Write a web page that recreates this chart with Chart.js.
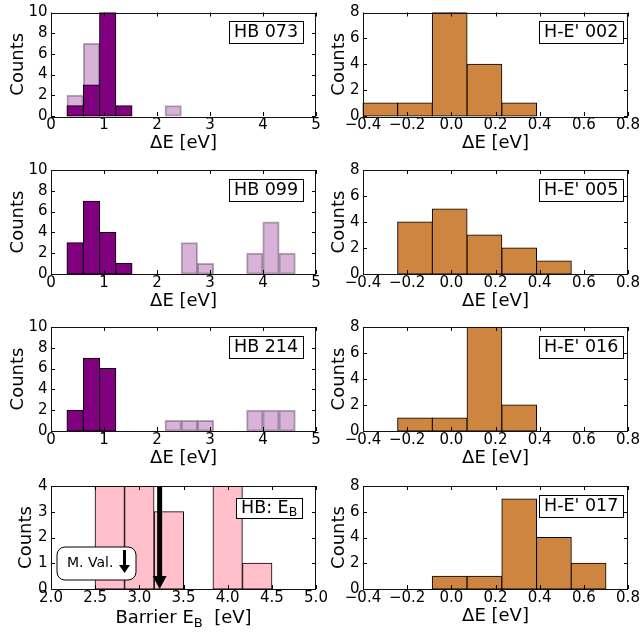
<!DOCTYPE html>
<html><head><meta charset="utf-8">
<script src="https://cdn.jsdelivr.net/npm/chart.js@4.4.1/dist/chart.umd.min.js"></script>
<style>
html,body{margin:0;padding:0;background:#fff;}
#wrap{position:relative;width:642px;height:633px;overflow:hidden;background:#fff;}
#wrap canvas{position:absolute;left:0;top:0;}
</style></head><body><div id="wrap"></div>
<script>
// ---------------- data ----------------
const hbBinEdges = [0.30,0.61,0.92,1.22,1.53,1.84,2.15,2.46,2.76,3.07,3.38,3.69,4.00,4.30,4.61];
const hb073Main  = [1,3,10,1,0,0,0,0,0,0,0,0,0,0];
const hb073Other = [2,7,0,0,0,0,1,0,0,0,0,0,0,0];
const hb099Main  = [3,7,4,1,0,0,0,0,0,0,0,0,0,0];
const hb099Other = [0,0,0,0,0,0,0,3,1,0,0,2,5,2];
const hb214Main  = [2,7,6,0,0,0,0,0,0,0,0,0,0,0];
const hb214Other = [0,0,0,0,0,0,1,1,1,0,0,2,2,2];

const heBinEdges = [-0.400,-0.243,-0.086,0.071,0.229,0.386,0.543,0.700];
const he002 = [1,1,8,4,1,0,0];
const he005 = [0,4,5,3,2,1,0];
const he016 = [0,1,1,8,2,0,0];
const he017 = [0,0,1,1,7,4,2];

const barrierBinEdges = [2.50,2.83,3.17,3.50,3.83,4.17,4.50];
const barrierCounts   = [5,5,3,0,5,1];
const barrierMean     = 3.23;

const hbXTicks = [0,1,2,3,4,5];
const hbYTicks = [0,2,4,6,8,10];
const heXTicks = [-0.4,-0.2,0.0,0.2,0.4,0.6,0.8];
const heYTicks = [0,2,4,6,8];
const barrierXTicks = [2.0,2.5,3.0,3.5,4.0,4.5,5.0];
const barrierYTicks = [0,1,2,3,4];

// ---------------- styling / layout ----------------
const F = '"DejaVu Sans", sans-serif';
const W = 642, H = 633;
const rows = [[12,116],[170,274],[327,431],[486,589]];
const cols = [[51,316,0],[363,628,320]];
const XH = 44;
const TICKFONT = 15;
const PURPLE = '#800080', LIGHT = 'rgba(128,0,128,0.3)', LIGHTEDGE = 'rgba(0,0,0,0.3)';
const ORANGE = '#cd853f', PINK = '#ffc0cb';

function centers(edges){ return edges.slice(0,-1).map((e,i)=>(e+edges[i+1])/2); }
function toPts(edges, counts){ const c = centers(edges); return counts.map((v,i)=>({x:c[i], y: v>0 ? v : null})); }
function ds(edges, counts, bg, border, order){
  return {data: toPts(edges,counts), backgroundColor:bg, borderColor:border, borderWidth:1,
    borderSkipped:false, inflateAmount:0.5, grouped:false, barPercentage:1, categoryPercentage:1,
    order:order, clip:{left:1,right:1,top:0,bottom:1}};
}
const fmtInt = v => String(v);
const fmt1 = v => (Math.abs(v)<1e-9 ? '0.0' : v.toFixed(1)).replace('-', '\u2212');

function drawRich(ctx, parts, x, y, align){
  let total = 0;
  parts.forEach(p=>{ ctx.font = p.size+'px '+F; p.w = ctx.measureText(p.t).width; total += p.w; });
  let cx = align==='center' ? x - total/2 : x;
  ctx.textAlign='left'; ctx.textBaseline='middle'; ctx.fillStyle='#000';
  parts.forEach(p=>{ ctx.font = p.size+'px '+F; ctx.fillText(p.t, cx, y + (p.dy||0)); cx += p.w; });
  return total;
}
function measureRich(ctx, parts){
  let total=0; parts.forEach(p=>{ ctx.font = p.size+'px '+F; total += ctx.measureText(p.t).width; }); return total;
}

const panelPlugin = {
  id:'panel',
  afterDatasetsDraw(chart, args, o){
    const {ctx, chartArea:a, scales:{x,y}} = chart;
    ctx.save();
    if (o.arrowAt !== undefined){
      const px = x.getPixelForValue(o.arrowAt);
      ctx.fillStyle='#000';
      ctx.fillRect(px-2.5, a.top, 5, a.bottom - a.top - 12);
      ctx.beginPath(); ctx.moveTo(px-7, a.bottom-13); ctx.lineTo(px+7, a.bottom-13); ctx.lineTo(px, a.bottom); ctx.closePath(); ctx.fill();
    }
    ctx.strokeStyle='#000'; ctx.lineWidth=1;
    ctx.beginPath();
    x.ticks.forEach(t=>{ const px = Math.round(x.getPixelForValue(t.value))+0.5;
      ctx.moveTo(px, a.bottom); ctx.lineTo(px, a.bottom-4); ctx.moveTo(px, a.top); ctx.lineTo(px, a.top+4); });
    y.ticks.forEach(t=>{ const py = Math.round(y.getPixelForValue(t.value))+0.5;
      ctx.moveTo(a.left, py); ctx.lineTo(a.left+4, py); ctx.moveTo(a.right, py); ctx.lineTo(a.right-4, py); });
    ctx.stroke();
    ctx.strokeStyle='#111';
    ctx.strokeRect(Math.round(a.left)+0.5, Math.round(a.top)+0.5, Math.round(a.right-a.left)-1, Math.round(a.bottom-a.top));
    ctx.restore();
  },
  afterDraw(chart, args, o){
    const {ctx, chartArea:a} = chart;
    ctx.save();
    const parts = o.label;
    const tw = measureRich(ctx, parts);
    const bw = tw + 10, bh = o.boxH || 22;
    const rx = Math.round(a.right - o.boxRight), ty = Math.round(a.top + o.boxTop);
    const lx = Math.round(rx - bw);
    ctx.fillStyle='#fff'; ctx.fillRect(lx, ty, bw, bh);
    ctx.strokeStyle='#000'; ctx.lineWidth=1; ctx.strokeRect(lx+0.5, ty+0.5, Math.round(bw), bh);
    drawRich(ctx, parts, lx+5, ty + bh/2 + 0.5, 'left');
    if (o.xTitleParts){
      drawRich(ctx, o.xTitleParts, (a.left+a.right)/2, a.bottom + 29.5, 'center');
    }
    if (o.meanBox){
      const bx = a.left + 6, by = a.top + 61, w = 79, h = 33, r = 8;
      ctx.beginPath();
      ctx.moveTo(bx+r, by); ctx.lineTo(bx+w-r, by); ctx.arcTo(bx+w, by, bx+w, by+r, r);
      ctx.lineTo(bx+w, by+h-r); ctx.arcTo(bx+w, by+h, bx+w-r, by+h, r);
      ctx.lineTo(bx+r, by+h); ctx.arcTo(bx, by+h, bx, by+h-r, r);
      ctx.lineTo(bx, by+r); ctx.arcTo(bx, by, bx+r, by, r); ctx.closePath();
      ctx.fillStyle='#fff'; ctx.fill(); ctx.strokeStyle='#000'; ctx.lineWidth=1; ctx.stroke();
      ctx.fillStyle='#000'; ctx.font='14px '+F; ctx.textAlign='left'; ctx.textBaseline='middle';
      ctx.fillText('M. Val.', bx+10, by+h/2);
      const ax = bx + 67.5;
      ctx.fillRect(ax-1.5, by+3, 3, 16);
      ctx.beginPath(); ctx.moveTo(ax-5.5, by+18); ctx.lineTo(ax+5.5, by+18); ctx.lineTo(ax, by+26); ctx.closePath(); ctx.fill();
    }
    ctx.restore();
  }
};

const wrap = document.getElementById('wrap');
function makePanel(p){
  const cv = document.createElement('canvas'); cv.width=W; cv.height=H; wrap.appendChild(cv);
  const [top,bottom] = rows[p.row]; const [left,right,padL] = cols[p.col];
  new Chart(cv, {type:'bar', data:{datasets:p.datasets}, options:{
    responsive:false, animation:false, devicePixelRatio:1, events:[],
    layout:{padding:{left:padL, right:W-right, top:top, bottom:H-bottom-XH}},
    plugins:{legend:{display:false}, tooltip:{enabled:false}, panel:p.deco},
    scales:{
      x:{type:'linear', position:'bottom', min:p.xMin, max:p.xMax, offset:false,
        grid:{display:false, drawTicks:false, offset:false}, border:{display:false},
        afterBuildTicks:s=>{ s.ticks = p.xTicks.map(v=>({value:v})); },
        afterFit:s=>{ s.height = XH; },
        ticks:{autoSkip:false, maxRotation:0, minRotation:0, padding:0, color:'#000', font:{family:F,size:TICKFONT}, callback:v=>p.xFmt(v)},
        title:{display:!!p.xTitle, text:p.xTitle||'', color:'#000', font:{family:F,size:18}, padding:{top:0,bottom:XH-10.8-27}}},
      y:{type:'linear', position:'left', min:0, max:p.yMax,
        grid:{display:false, drawTicks:false}, border:{display:false},
        afterBuildTicks:s=>{ s.ticks = p.yTicks.map(v=>({value:v})); },
        afterFit:s=>{ s.width = left - padL; },
        ticks:{autoSkip:false, padding:3.5, color:'#000', font:{family:F,size:TICKFONT}, callback:v=>String(v)},
        title:{display:true, text:'Counts', color:'#000', font:{family:F,size:18}, padding:{top:p.yTitleX - padL - 10.8, bottom:0}}}
    }
  }, plugins:[panelPlugin]});
}

const L = s => [{t:s, size:17.5}];
const hbPanel = (row, main, other, name) => makePanel({row, col:0,
  datasets:[ds(hbBinEdges, main, PURPLE, '#000', 0), ds(hbBinEdges, other, LIGHT, LIGHTEDGE, 1)],
  xMin:0, xMax:5, xTicks:hbXTicks, xFmt:fmtInt, yMax:10, yTicks:hbYTicks, xTitle:'\u0394E [eV]', yTitleX:18,
  deco:{label:L(name), boxRight:13.3, boxTop:8.7}});
const hePanel = (row, counts, name) => makePanel({row, col:1,
  datasets:[ds(heBinEdges, counts, ORANGE, '#000', 0)],
  xMin:-0.4, xMax:0.8, xTicks:heXTicks, xFmt:fmt1, yMax:8, yTicks:heYTicks, xTitle:'\u0394E [eV]', yTitleX:339.5,
  deco:{label:L(name), boxRight:4.7, boxTop:8.7}});

hbPanel(0, hb073Main, hb073Other, 'HB 073');
hbPanel(1, hb099Main, hb099Other, 'HB 099');
hbPanel(2, hb214Main, hb214Other, 'HB 214');
hePanel(0, he002, "H-E' 002");
hePanel(1, he005, "H-E' 005");
hePanel(2, he016, "H-E' 016");
hePanel(3, he017, "H-E' 017");
makePanel({row:3, col:0,
  datasets:[ds(barrierBinEdges, barrierCounts, PINK, '#000', 0)],
  xMin:2, xMax:5, xTicks:barrierXTicks, xFmt:fmt1, yMax:4, yTicks:barrierYTicks, xTitle:null, yTitleX:26,
  deco:{label:[{t:'HB: E', size:17.5},{t:'B', size:12.5, dy:4}], boxRight:14, boxTop:12, boxH:20,
        arrowAt:barrierMean, meanBox:true,
        xTitleParts:[{t:'Barrier E', size:18},{t:'B', size:13, dy:5},{t:'  [eV]', size:18}]}});
</script></body></html>
